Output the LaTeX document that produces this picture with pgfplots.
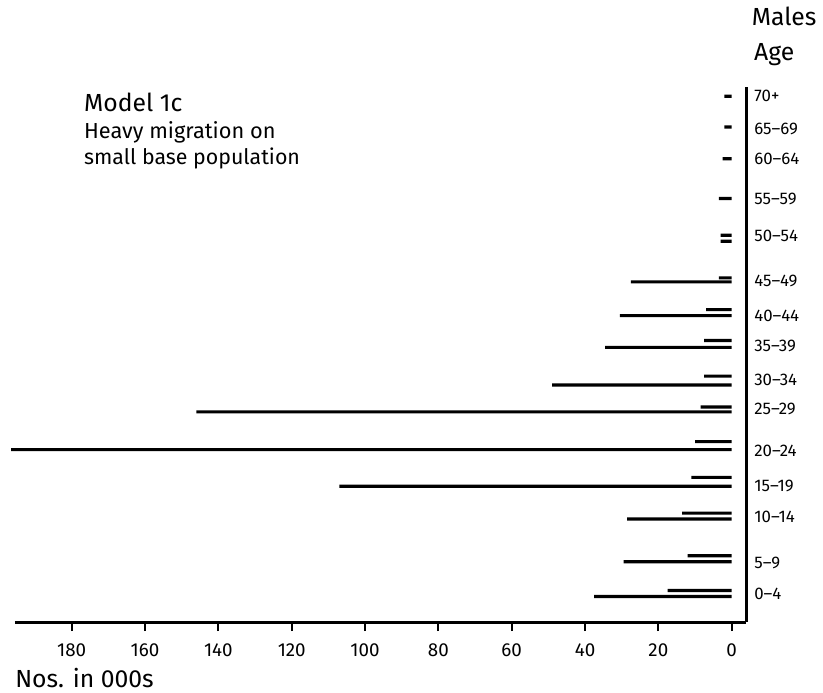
\documentclass[border=0pt]{standalone}
\usepackage{pgfplots}
\pgfplotsset{compat=1.18}
\usepackage{fontspec}
\setmainfont{Fira Sans}
\begin{document}
\begin{tikzpicture}
\begin{axis}[
  scale only axis,
  width=368.5bp, height=269.5bp,
  xmin=-195.5, xmax=4,
  ymin=73, ymax=612,
  clip=false,
  axis x line*=bottom,
  axis y line*=right,
  axis line style={line width=1.4bp, -},
  xtick={-180,-160,-140,-120,-100,-80,-60,-40,-20,0},
  xticklabels={180,160,140,120,100,80,60,40,20,0},
  x tick label style={font=\fontsize{9.5}{10}\selectfont},
  xticklabel shift=3bp,
  /pgf/number format/assume math mode=true,
  tick align=outside,
  x tick style={line width=0.9bp, black},
  major tick length=4.5bp,
  ytick={603,570,540,500,462,417,382,351,317,288,246,210,179,133,102},
  yticklabels={70+,65--69,60--64,55--59,50--54,45--49,40--44,35--39,30--34,25--29,20--24,15--19,10--14,5--9,0--4},
  y tick style={draw=none},
  y tick label style={font=\fontsize{8.5}{9}\selectfont, xshift=-4bp},
]
\addplot[xbar, bar shift=0pt, bar width=1.6bp, fill=black, draw=none] coordinates {
 (-2,603) (-2,572) (-2.5,540) (-3.5,500) (-3,463) (-3.5,420) (-7,388) (-7.5,357)
 (-7.5,321) (-8.5,290) (-10,255) (-11,219) (-13.5,183) (-12,140) (-17.5,105)
};
\addplot[xbar, bar shift=0pt, bar width=1.6bp, fill=black, draw=none] coordinates {
 (-3,457) (-27.5,416) (-30.5,382) (-34.5,350) (-49,312) (-146,285) (-196.5,247)
 (-107,210) (-28.5,177) (-29.5,134) (-37.5,99)
};
\path (axis cs:-199.56,2) rectangle (axis cs:23.2,700);
\node[anchor=center, font=\fontsize{12.5}{14}\selectfont] at (axis cs:14.3,683) {Males};
\node[anchor=center, font=\fontsize{12.5}{14}\selectfont] at (axis cs:11.6,645) {Age};
\node[anchor=west, font=\fontsize{12.5}{15}\selectfont] at (axis cs:-178.5,597) {Model 1c};
\node[anchor=west, font=\fontsize{11}{12}\selectfont] at (axis cs:-178.5,567) {Heavy migration on};
\node[anchor=west, font=\fontsize{10.8}{12}\selectfont] at (axis cs:-178.5,540) {small base population};
\node[anchor=west, font=\fontsize{12.5}{14}\selectfont, inner sep=0pt] at (axis cs:-195.5,17) {Nos. in 000s};
\end{axis}
\end{tikzpicture}
\end{document}
